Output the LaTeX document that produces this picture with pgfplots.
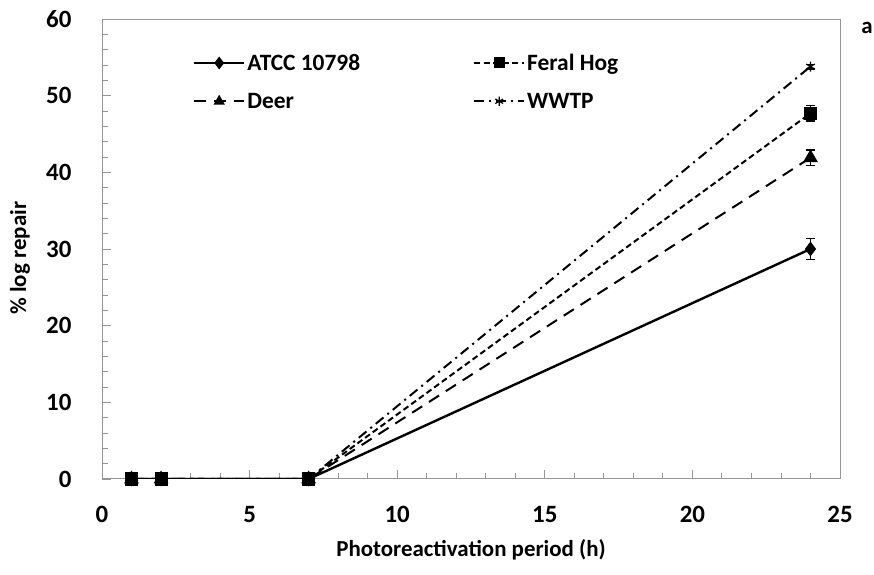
\documentclass[border=0pt]{standalone}
\usepackage{fontspec}
\setmainfont{Carlito}
\usepackage{pgfplots}
\pgfplotsset{compat=1.18}
\definecolor{axisgray}{RGB}{150,150,150}

% Repair after UV: all strains stay at 0 until 7 h, then rise to the 24 h value
\pgfplotstableread{
x   y     e
1   0     0
2   0     0
7   0     0
24  30.0  1.4
}\atcc
\pgfplotstableread{
x   y     e
1   0     0
2   0     0
7   0     0
24  47.7  1.0
}\feral
\pgfplotstableread{
x   y     e
1   0     0
2   0     0
7   0     0
24  41.9  1.0
}\deer
\pgfplotstableread{
x   y     e
1   0     0
2   0     0
7   0     0
24  53.8  0.3
}\wwtp

\begin{document}
\begin{tikzpicture}
\useasboundingbox (0,0) rectangle (874bp,575bp);
\begin{axis}[
  name=main,
  at={(102bp,96bp)}, anchor=south west,
  scale only axis, width=738bp, height=460bp,
  xmin=0, xmax=25, ymin=0, ymax=60,
  xtick={0,5,...,25}, ytick={0,10,...,60},
  minor x tick num=4, minor y tick num=4,
  xtick pos=lower, ytick pos=left,
  tick align=inside, major tick length=9bp, minor tick length=6bp,
  axis line style={axisgray, line width=1bp},
  every tick/.style={axisgray, line width=0.9bp},
  /pgf/number format/assume math mode=true,
  tick label style={font=\fontsize{25}{29}\selectfont\bfseries},
  xticklabel style={yshift=-24bp},
  yticklabel style={xshift=-27bp},
  xlabel={Photoreactivation period (h)},
  ylabel={\% log repair},
  every axis x label/.style={at={(axis description cs:0.5,-0.154)}, anchor=center,
    font=\fontsize{23}{27}\selectfont\bfseries},
  every axis y label/.style={at={(axis description cs:-0.111,0.48)}, anchor=center, rotate=90,
    font=\fontsize{23}{27}\selectfont\bfseries},
  legend columns=2,
  legend cell align=left,
  legend style={draw=none, fill=none, at={(axis description cs:0.119,0.933)}, anchor=north west,
    font=\fontsize{23.5}{27}\selectfont\bfseries, row sep=17bp,
    /tikz/every even column/.append style={column sep=111bp}},
  legend image code/.code={\draw[mark repeat=2, mark phase=2, #1] plot coordinates {(0bp,0bp) (25bp,0bp) (50bp,0bp)};},
  legend image post style={mark size=4.5bp},
  error bars/y dir=both, error bars/y explicit,
  error bars/error bar style={black, line width=1.4bp, solid},
  error bars/error mark options={rotate=90, black, mark size=4.5bp, line width=1.4bp},
]
\addplot[black, line width=2.4bp, mark=diamond*, mark size=5.5bp, mark options={solid}]
  table[x=x, y=y, y error=e] {\atcc};
\addlegendentry{ATCC 10798}
\addplot[black, line width=2bp, dash pattern=on 6bp off 3.5bp, mark=square*, mark size=5.5bp, mark options={solid}]
  table[x=x, y=y, y error=e] {\feral};
\addlegendentry{Feral Hog}
\addplot[black, line width=2bp, dash pattern=on 12bp off 8bp, mark=triangle*, mark size=6.5bp, mark options={solid}]
  table[x=x, y=y, y error=e] {\deer};
\addlegendentry{Deer}
\addplot[black, line width=2bp, dash pattern=on 10bp off 5bp on 2bp off 5bp, mark=asterisk, mark size=5bp, mark options={solid, line width=1.2bp}]
  table[x=x, y=y, y error=e] {\wwtp};
\addlegendentry{WWTP}
\end{axis}
% panel letter beside the top right corner of the plot area
\node[font=\fontsize{23}{27}\selectfont\bfseries] at ([xshift=27bp,yshift=-9bp]main.north east) {a};
\end{tikzpicture}
\end{document}
